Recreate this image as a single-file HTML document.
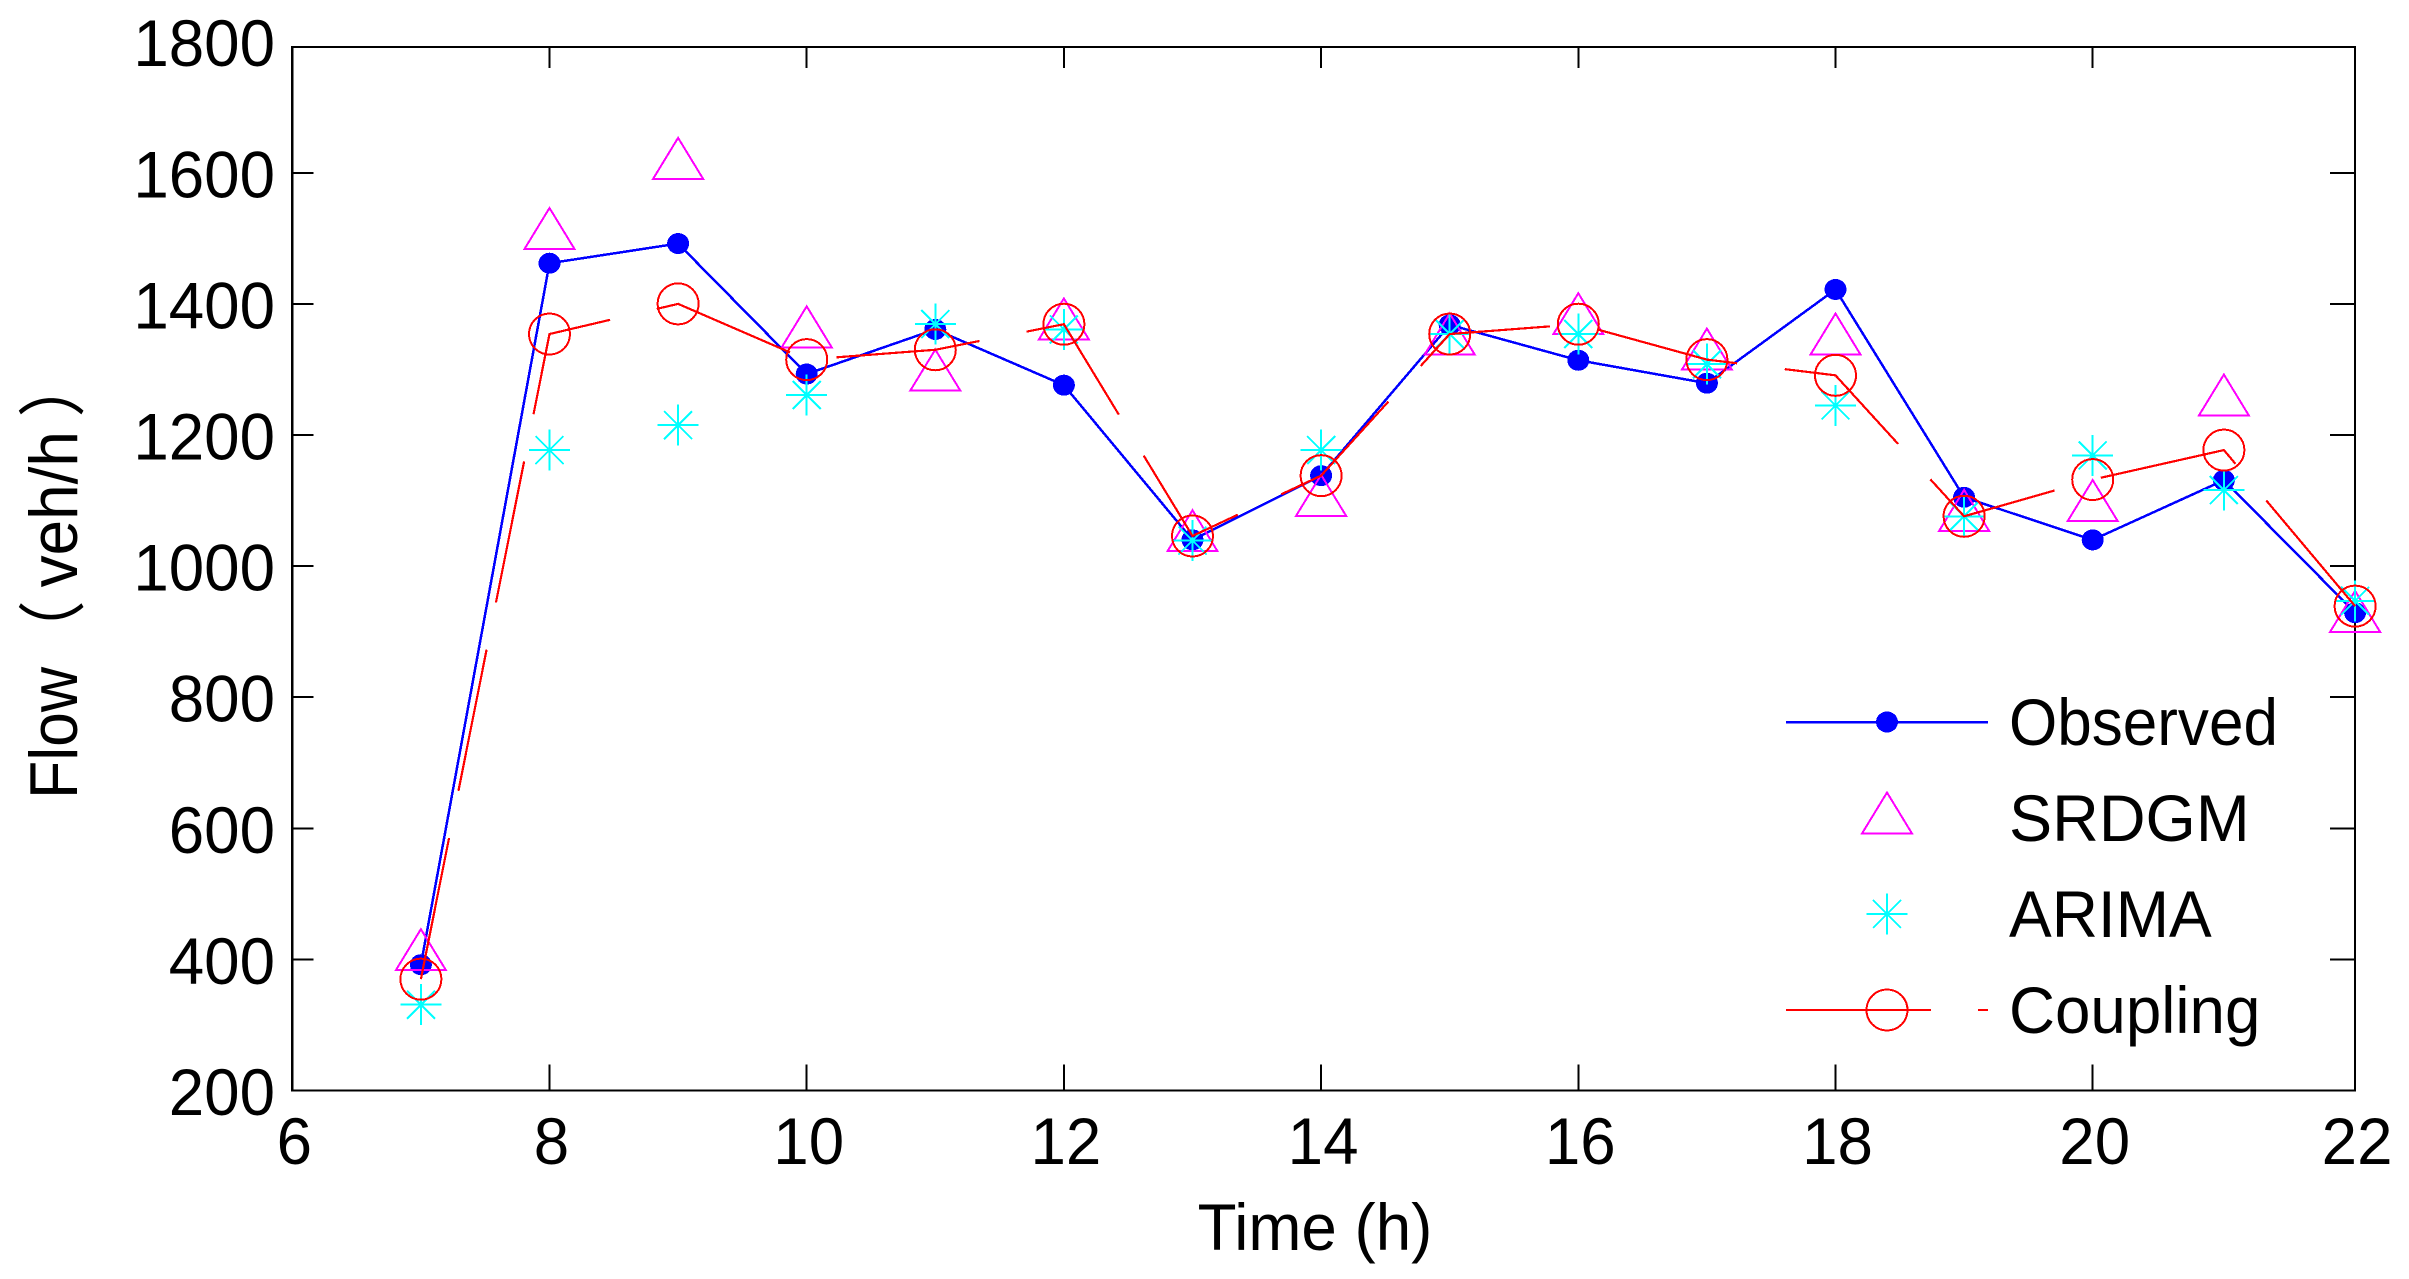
<!DOCTYPE html>
<html lang="en">
<head>
<meta charset="utf-8">
<title>Flow vs Time</title>
<style>
html,body{margin:0;padding:0;background:#fff;width:2409px;height:1279px;overflow:hidden}
svg{display:block}
text{font-family:"Liberation Sans","Noto Sans CJK SC",sans-serif;fill:#000}
.crisp{shape-rendering:crispEdges}
</style>
</head>
<body>
<svg id="chart" xmlns="http://www.w3.org/2000/svg" width="2409" height="1279" viewBox="0 0 2409 1279">
  <rect x="0" y="0" width="2409" height="1279" fill="#fff"/>
  <g id="axes"></g>
  <g id="series" class="crisp"></g>
  <text transform="translate(1315,1250) scale(0.965,1)" font-size="66" text-anchor="middle">Time (h)</text>
  <g transform="translate(77,799) rotate(-90) scale(0.92,1)" font-size="68">
    <text x="0" y="0">Flow</text>
    <text x="148" y="0" font-size="68">（</text>
    <text x="230" y="0" textLength="170" lengthAdjust="spacingAndGlyphs">veh/h</text>
    <text x="415" y="0" font-size="68">）</text>
  </g>
  <g id="legend">
    <g class="crisp">
      <line x1="1786" y1="722" x2="1988" y2="722" stroke="#0000ff" stroke-width="2.5"/>
      <ellipse cx="1887" cy="722" rx="11" ry="10.5" fill="#0000ff"/>
    </g>
    <g class="crisp">
      <polygon points="1887,792.5 1912,833.5 1862,833.5" fill="none" stroke="#ff00ff" stroke-width="2"/>
    </g>
    <g class="crisp" stroke="#00ffff" stroke-width="2">
      <line x1="1887" y1="893.5" x2="1887" y2="934.5"/>
      <line x1="1866.5" y1="914" x2="1907.5" y2="914"/>
      <line x1="1873" y1="900" x2="1901" y2="928"/>
      <line x1="1901" y1="900" x2="1873" y2="928"/>
    </g>
    <g class="crisp">
      <line x1="1786" y1="1010" x2="1988" y2="1010" stroke="#ff0000" stroke-width="2" stroke-dasharray="145 47"/>
      <circle cx="1887" cy="1010" r="20.5" fill="none" stroke="#ff0000" stroke-width="2"/>
    </g>
    <text transform="translate(2009,745) scale(0.94,1)" font-size="66">Observed</text>
    <text transform="translate(2009,841) scale(0.98,1)" font-size="66">SRDGM</text>
    <text transform="translate(2009,937) scale(0.97,1)" font-size="66">ARIMA</text>
    <text transform="translate(2009,1033) scale(0.965,1)" font-size="66">Coupling</text>
  </g>
</svg>
<script>
const hours = [7,8,9,10,11,12,13,14,15,16,17,18,19,20,21,22];
const observed = [392,1462,1492,1293,1361,1276,1040,1138,1368,1314,1279,1422,1105,1040,1131,929];
const srdgm = [415,1515,1622,1365,1299,1377,1054,1108,1354,1385,1331,1354,1085,1100,1261,931];
const arima = [331,1177,1215,1261,1369,1361,1039,1177,1354,1354,1308,1245,1076,1169,1116,947];
const coupling = [370,1354,1400,1315,1330,1369,1046,1138,1354,1369,1315,1291,1076,1132,1177,939];
const xTicks = [6,8,10,12,14,16,18,20,22];
const yTicks = [200,400,600,800,1000,1200,1400,1600,1800];
const yFrameTop = 1792;

const NS = 'http://www.w3.org/2000/svg';
function xScale(h){ return h <= 20 ? 292.3 + (h - 6) * 128.6 : 2092.7 + (h - 20) * 131.2; }
function yScale(v){ return 1090.6 - (v - 200) * 0.6556; }
function make(parent, tag, attrs){
  const el = document.createElementNS(NS, tag);
  for (const k in attrs) el.setAttribute(k, attrs[k]);
  parent.appendChild(el);
  return el;
}
const axes = document.getElementById('axes');
const series = document.getElementById('series');
const left = xScale(6), right = xScale(22), bottom = yScale(200), top_ = yScale(yFrameTop);

const frame = make(axes, 'rect', {x:left, y:top_, width:right-left, height:bottom-top_, fill:'none', stroke:'#000', 'stroke-width':2.2, class:'crisp'});



xTicks.forEach(function(t){
  const x = xScale(t);
  const tickB = make(axes, 'line', {x1:x, x2:x, y1:bottom, y2:bottom-26, stroke:'#000', 'stroke-width':2, class:'crisp'});
  
  
  const tickT = make(axes, 'line', {x1:x, x2:x, y1:top_, y2:top_+21, stroke:'#000', 'stroke-width':2, class:'crisp'});
  
  
  const label = make(axes, 'text', {transform:'translate(' + (x + 2) + ',1164) scale(0.965,1)', 'font-size':66, 'text-anchor':'middle'});
  label.textContent = String(t);
  
  
});
yTicks.forEach(function(t){
  const y = yScale(t);
  if (t < yFrameTop) {
    const tickL = make(axes, 'line', {x1:left, x2:left+21, y1:y, y2:y, stroke:'#000', 'stroke-width':2, class:'crisp'});
    
    
    const tickR = make(axes, 'line', {x1:right, x2:right-25, y1:y, y2:y, stroke:'#000', 'stroke-width':2, class:'crisp'});
    
    
  }
  const label = make(axes, 'text', {transform:'translate(275,' + (y + 24.5) + ') scale(0.965,1)', 'font-size':66, 'text-anchor':'end'});
  label.textContent = String(t);
  
  
});

function linePoints(vals){
  return vals.map(function(v, i){ return xScale(hours[i]) + ',' + yScale(v); }).join(' ');
}

const obsLine = make(series, 'polyline', {points:linePoints(observed), fill:'none', stroke:'#0000ff', 'stroke-width':2.5});


observed.forEach(function(v, i){
  const dot = make(series, 'ellipse', {cx:xScale(hours[i]), cy:yScale(v), rx:11, ry:10.5, fill:'#0000ff'});
  
  
});

srdgm.forEach(function(v, i){
  const x = xScale(hours[i]), y = yScale(v);
  const tri = make(series, 'polygon', {points:x + ',' + (y-20.5) + ' ' + (x+25) + ',' + (y+20.5) + ' ' + (x-25) + ',' + (y+20.5), fill:'none', stroke:'#ff00ff', 'stroke-width':2});
  
  
});

arima.forEach(function(v, i){
  const x = xScale(hours[i]), y = yScale(v);
  const star = make(series, 'g', {stroke:'#00ffff', 'stroke-width':2});
  
  
  make(star, 'line', {x1:x, y1:y-20.5, x2:x, y2:y+20.5});
  make(star, 'line', {x1:x-20.5, y1:y, x2:x+20.5, y2:y});
  make(star, 'line', {x1:x-14, y1:y-14, x2:x+14, y2:y+14});
  make(star, 'line', {x1:x+14, y1:y-14, x2:x-14, y2:y+14});
});

const cplLine = make(series, 'polyline', {points:linePoints(coupling), fill:'none', stroke:'#ff0000', 'stroke-width':2.2, 'stroke-dasharray':'144 48'});


coupling.forEach(function(v, i){
  const c = make(series, 'circle', {cx:xScale(hours[i]), cy:yScale(v), r:20.5, fill:'none', stroke:'#ff0000', 'stroke-width':2});
  
  
});
</script>
</body>
</html>
